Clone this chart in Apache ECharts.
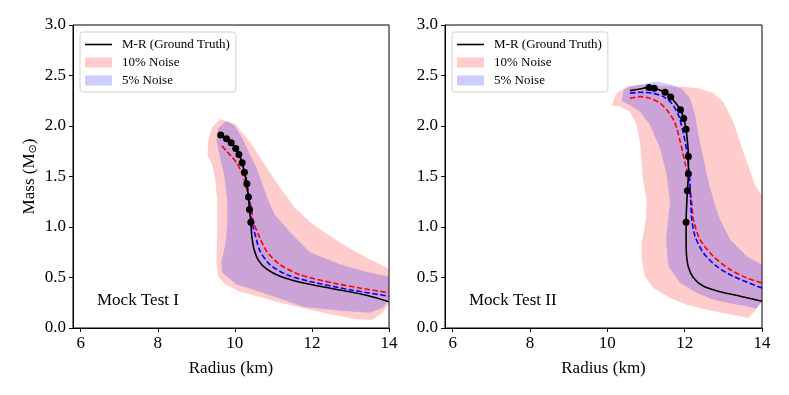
<!DOCTYPE html>
<html>
<head>
<meta charset="utf-8">
<script src="https://cdn.jsdelivr.net/npm/echarts@6/dist/echarts.min.js"></script>
<style>
  html, body { margin: 0; padding: 0; background: #fff; }
  #chart { width: 789px; height: 395px; }
</style>
</head>
<body>
<div id="chart"></div>
<script>
// tick labels
const xTicks = [6, 8, 10, 12, 14]
const legendNames = ['M-R (Ground Truth)', '10% Noise', '5% Noise']

// ---- Mock Test I ----
const band10A = [[9.62, 2.07], [10.01, 2.02], [10.40, 1.84], [10.79, 1.61], [11.17, 1.39], [11.56, 1.19],
  [11.95, 1.05], [12.47, 0.91], [12.98, 0.79], [13.50, 0.68], [14.0, 0.59], [14.0, 0.25], [13.84, 0.15],
  [13.55, 0.08], [13.11, 0.09], [12.54, 0.13], [11.95, 0.18], [11.17, 0.25], [10.53, 0.32], [10.14, 0.36],
  [9.75, 0.43], [9.57, 0.51], [9.52, 0.66], [9.54, 0.92], [9.54, 1.27], [9.49, 1.47], [9.41, 1.62],
  [9.29, 1.71], [9.31, 1.86], [9.41, 1.99]]
const band5A = [[9.78, 2.05], [10.0, 2.0], [10.22, 1.86], [10.58, 1.57], [10.86, 1.27], [11.04, 1.12],
  [11.43, 0.95], [11.95, 0.75], [12.73, 0.63], [13.37, 0.56], [14.0, 0.51], [14.0, 0.28], [13.84, 0.20],
  [13.50, 0.15], [12.73, 0.17], [11.77, 0.21], [11.25, 0.28], [10.47, 0.38], [10.04, 0.43], [9.67, 0.55],
  [9.65, 0.66], [9.75, 0.82], [9.80, 1.02], [9.80, 1.27], [9.72, 1.52], [9.60, 1.71], [9.52, 1.86], [9.57, 1.98]]
const dotsA = [[9.634, 1.912], [9.784, 1.873], [9.906, 1.833], [10.022, 1.778], [10.105, 1.719], [10.190, 1.635],
  [10.249, 1.541], [10.311, 1.427], [10.353, 1.296], [10.379, 1.173], [10.415, 1.048]]
const truthA = dotsA.concat([[10.441, 0.906], [10.501, 0.775], [10.612, 0.670], [10.829, 0.582], [11.173, 0.512],
  [11.690, 0.453], [12.544, 0.389], [13.416, 0.324], [14.0, 0.260]])
const red10A = [[9.665, 1.803], [9.795, 1.747], [9.924, 1.694], [10.053, 1.632], [10.183, 1.533], [10.268, 1.434],
  [10.353, 1.302], [10.423, 1.190], [10.483, 1.054], [10.612, 0.923], [10.829, 0.758], [11.173, 0.626],
  [11.690, 0.527], [12.552, 0.445], [13.243, 0.396], [14.0, 0.349]]
const blue5A = [[9.673, 1.892], [9.828, 1.853], [9.958, 1.803], [10.074, 1.744], [10.165, 1.665], [10.242, 1.566],
  [10.307, 1.447], [10.358, 1.309], [10.397, 1.180], [10.441, 1.054], [10.527, 0.923], [10.656, 0.758],
  [10.915, 0.626], [11.347, 0.527], [11.949, 0.461], [12.984, 0.379], [14.0, 0.315]]

// ---- Mock Test II ----
const band10B = [[10.109, 2.202], [10.239, 2.324], [10.498, 2.390], [10.843, 2.407], [11.440, 2.397], [11.881, 2.392],
  [12.322, 2.377], [12.737, 2.327], [12.996, 2.241], [13.256, 2.044], [13.515, 1.747], [13.697, 1.549],
  [13.826, 1.408], [14.0, 1.309], [14.0, 0.270], [13.826, 0.171], [13.652, 0.099], [13.092, 0.141],
  [12.573, 0.181], [12.054, 0.230], [11.621, 0.297], [11.188, 0.396], [10.973, 0.510], [10.887, 0.676],
  [10.887, 0.844], [10.999, 1.071], [11.012, 1.269], [10.921, 1.467], [10.843, 1.843], [10.757, 2.011],
  [10.584, 2.142], [10.324, 2.192]]
const band5B = [[10.368, 2.248], [10.428, 2.357], [10.584, 2.392], [11.017, 2.423], [11.284, 2.441], [11.621, 2.411],
  [11.933, 2.367], [12.140, 2.275], [12.270, 2.110], [12.356, 1.912], [12.485, 1.682], [12.615, 1.450],
  [12.763, 1.239], [12.918, 1.071], [13.178, 0.873], [13.611, 0.708], [14.0, 0.626], [14.0, 0.260],
  [13.852, 0.191], [13.567, 0.221], [13.352, 0.230], [12.745, 0.280], [12.314, 0.346], [11.881, 0.445],
  [11.577, 0.609], [11.518, 0.873], [11.551, 1.005], [11.621, 1.239], [11.536, 1.516], [11.362, 1.780],
  [11.103, 2.011], [10.843, 2.142], [10.584, 2.209]]
const dotsB = [[11.077, 2.382], [11.211, 2.375], [11.492, 2.334], [11.639, 2.288], [11.891, 2.161], [11.974, 2.075],
  [12.036, 1.969], [12.096, 1.697], [12.096, 1.526], [12.070, 1.358], [12.036, 1.048]]
const truthB = [[10.584, 2.350], [10.843, 2.367]].concat(dotsB, [[12.036, 0.873], [12.049, 0.715], [12.101, 0.596],
  [12.226, 0.498], [12.485, 0.413], [12.918, 0.359], [13.437, 0.315], [14.0, 0.265]])
const red10B = [[10.584, 2.275], [10.843, 2.291], [11.103, 2.275], [11.362, 2.226], [11.577, 2.142], [11.751, 2.028],
  [11.881, 1.852], [12.010, 1.632], [12.096, 1.484], [12.184, 1.236], [12.226, 1.071], [12.399, 0.873],
  [12.745, 0.708], [13.178, 0.577], [13.611, 0.495], [14.0, 0.445]]
const blue5B = [[10.584, 2.324], [10.843, 2.334], [11.188, 2.324], [11.447, 2.291], [11.665, 2.226], [11.837, 2.110],
  [11.966, 1.929], [12.054, 1.747], [12.122, 1.516], [12.153, 1.269], [12.184, 1.071], [12.270, 0.906],
  [12.485, 0.742], [12.833, 0.609], [13.264, 0.510], [14.0, 0.396]]

const FONT = '"Liberation Serif", "DejaVu Serif", serif'
const chart = echarts.init(document.getElementById('chart'), null, { renderer: 'canvas' })

function band(name, pts, color, idx) {
  return {
    type: 'custom', name: name, xAxisIndex: idx, yAxisIndex: idx,
    itemStyle: { color: color },
    data: [pts[0]],
    renderItem: function (params, api) {
      return {
        type: 'polygon',
        shape: { points: pts.map(function (p) { return api.coord(p) }) },
        style: { fill: color }
      }
    },
    silent: true, z: 1
  }
}

function line(name, pts, color, dashed, idx) {
  return {
    type: 'line', name: name, xAxisIndex: idx, yAxisIndex: idx, data: pts,
    symbol: 'none', smooth: 0.25, silent: true, z: dashed ? 3 : 4,
    itemStyle: { color: color },
    lineStyle: { color: color, width: 1.6, type: dashed ? [5.5, 2.5] : 'solid' }
  }
}

function dots(pts, idx) {
  return {
    type: 'scatter', name: 'dots', xAxisIndex: idx, yAxisIndex: idx, data: pts,
    symbolSize: 7, itemStyle: { color: '#000', opacity: 1 }, silent: true, z: 5
  }
}

function xAxis(idx) {
  return {
    type: 'value', gridIndex: idx, min: 5.8, max: 14,
    name: 'Radius (km)', nameLocation: 'middle', nameGap: 32,
    nameTextStyle: { fontFamily: FONT, fontSize: 17, color: '#000' },
    splitLine: { show: false },
    axisLine: { show: true, lineStyle: { color: '#000', width: 1 } },
    axisTick: { show: true, length: 4, customValues: xTicks, lineStyle: { color: '#000' } },
    axisLabel: { customValues: xTicks, margin: 7, fontFamily: FONT, fontSize: 17, color: '#000' }
  }
}

function yAxis(idx) {
  const ax = {
    type: 'value', gridIndex: idx, min: 0, max: 3, interval: 0.5,
    splitLine: { show: false },
    axisLine: { show: true, lineStyle: { color: '#000', width: 1 } },
    axisTick: { show: true, length: 4, lineStyle: { color: '#000' } },
    axisLabel: {
      margin: 7, fontFamily: FONT, fontSize: 17, color: '#000',
      formatter: function (v) { return v.toFixed(1) }
    }
  }
  if (idx === 0) {
    ax.name = '{a|Mass (M}{b|⊙}{a|)}'
    ax.nameLocation = 'middle'
    ax.nameGap = 34
    ax.nameTextStyle = {
      color: '#000',
      rich: {
        a: { fontFamily: FONT, fontSize: 17, color: '#000' },
        b: { fontFamily: '"DejaVu Sans", sans-serif', fontSize: 11, color: '#000', padding: [8, 0, 0, 0] }
      }
    }
  }
  return ax
}

function legend(left) {
  return {
    left: left, top: 32, orient: 'vertical',
    padding: [6, 6, 5, 5], itemGap: 5, itemWidth: 27, itemHeight: 10,
    borderColor: '#d0d0d0', borderWidth: 1, borderRadius: 3, backgroundColor: '#fff',
    textStyle: { fontFamily: FONT, fontSize: 13, color: '#000', padding: [0, 0, 0, 5] },
    selectedMode: false,
    data: [
      { name: legendNames[0], icon: 'path://M0 0 H100 V6 H0 Z' },
      { name: legendNames[1], icon: 'rect' },
      { name: legendNames[2], icon: 'rect' }
    ]
  }
}

const pink = 'rgba(255,0,0,0.2)'
const lilac = 'rgba(0,0,255,0.2)'

chart.setOption({
  animation: false,
  backgroundColor: '#fff',
  grid: [
    { left: 73, top: 25, width: 316, height: 303, show: true, borderColor: '#000', borderWidth: 1 },
    { left: 445, top: 25, width: 317, height: 303, show: true, borderColor: '#000', borderWidth: 1 }
  ],
  xAxis: [xAxis(0), xAxis(1)],
  yAxis: [yAxis(0), yAxis(1)],
  legend: [legend(80), legend(452)],
  graphic: [
    { type: 'text', left: 97, top: 292, style: { text: 'Mock Test I', fontFamily: FONT, fontSize: 17, fill: '#000' } },
    { type: 'text', left: 469, top: 292, style: { text: 'Mock Test II', fontFamily: FONT, fontSize: 17, fill: '#000' } }
  ],
  series: [
    band(legendNames[1], band10A, pink, 0),
    band(legendNames[2], band5A, lilac, 0),
    line('red A', red10A, '#ff0000', true, 0),
    line('blue A', blue5A, '#0000ff', true, 0),
    line(legendNames[0], truthA, '#000', false, 0),
    dots(dotsA, 0),
    band(legendNames[1], band10B, pink, 1),
    band(legendNames[2], band5B, lilac, 1),
    line('red B', red10B, '#ff0000', true, 1),
    line('blue B', blue5B, '#0000ff', true, 1),
    line(legendNames[0], truthB, '#000', false, 1),
    dots(dotsB, 1)
  ]
})
</script>
</body>
</html>
